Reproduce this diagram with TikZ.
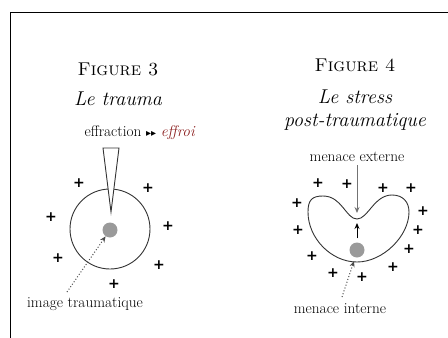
\documentclass[tikz,border=0pt]{standalone}
\usepackage{fontspec}
\newfontfamily\djv{DejaVu Sans}
\usetikzlibrary{arrows.meta}
\definecolor{effroired}{HTML}{8B1E1E}
\definecolor{dotgray}{HTML}{9A9A9A}
\begin{document}
\begin{tikzpicture}[x=1pt,y=-1pt,
  title/.style={font=\fontsize{18.5}{20}\selectfont},
  sub/.style={font=\fontsize{20}{22}\selectfont\itshape},
  lbl/.style={font=\fontsize{15.3}{17}\selectfont},
  plus/.style={font=\djv\fontsize{14}{14}\selectfont\bfseries, inner sep=0pt},
  gdot/.style={circle, fill=dotgray, minimum size=15pt, inner sep=0pt},
  outl/.style={line width=0.9pt, draw=black!80},
  tip/.style={-{Stealth[length=6pt,width=5pt]}},
  dotarrow/.style={tip, dotted, line width=1pt, draw=black!70}
]
\useasboundingbox (0,0) rectangle (448,338);
% frame
\draw[line width=0.9pt] (10,338) -- (10,12) -- (448,12);

% ---------- Figure 3 ----------
\node[title] (t3) at (118,69) {\textsc{Figure 3}};
\node[sub] (s3) at (118,99) {Le trauma};
\node[lbl] (eff) at (140,133) {effraction {\djv\fontsize{10}{10}\selectfont ▸▸} \textcolor{effroired}{\textit{effroi}}};
\node[circle, outl, minimum size=80pt, inner sep=0pt] (c3) at (110,229) {};
\coordinate (wl) at (103,148);
\coordinate (wr) at (119,148);
\coordinate (wt) at (111,212);
\filldraw[outl, fill=white] (wl) -- (wt) -- (wr) -- cycle;
\node[gdot] (d3) at (110,230) {};
\node[lbl] (img) at (85,304) {image traumatique};
\coordinate (imgs) at (67,292);
\draw[dotarrow] (imgs) -- (d3);
\foreach \i/\p in {1/{(79,183)},2/{(148,188)},3/{(51,217)},4/{(168,226)},5/{(58,258)},6/{(159,265)},7/{(114,284)}}
  \node[plus] (pa\i) at \p {+};

% ---------- Figure 4 ----------
\node[title] (t4) at (355,65) {\textsc{Figure 4}};
\node[sub] (s4a) at (355,97) {Le stress};
\node[sub] (s4b) at (355,122) {post-traumatique};
\node[lbl] (mext) at (357,157) {menace externe};
\coordinate (dip) at (357,213);
\draw[draw=black!55, line width=0.9pt, tip] (mext.south) -- (dip);
\draw[outl] (357,219)
  .. controls (368,219) and (374,195) .. (392,195)
  .. controls (403,195) and (409,202) .. (409,212)
  .. controls (409,236) and (383,262) .. (357,262)
  .. controls (331,262) and (308,238) .. (308,212)
  .. controls (308,200) and (312,196) .. (323,196)
  .. controls (342,196) and (346,219) .. (357,219) -- cycle;
\node[gdot] (d4) at (357,250) {};
\coordinate (up) at (357,223);
\draw[line width=0.9pt, tip] (d4.north) ++(0,-4) -- (up);
\node[lbl] (mint) at (340,309) {menace interne};
\coordinate (ints) at (342,297);
\coordinate (bot) at (354,261);
\draw[dotarrow] (ints) -- (bot);
\foreach \i/\p in {1/{(318,183)},2/{(347,184)},3/{(383,188)},4/{(411,188)},5/{(297,203)},6/{(423,211)},7/{(298,230)},8/{(418,230)},9/{(312,256)},10/{(409,249)},11/{(333,273)},12/{(362,277)},13/{(393,267)}}
  \node[plus] (pb\i) at \p {+};
\end{tikzpicture}
\end{document}
